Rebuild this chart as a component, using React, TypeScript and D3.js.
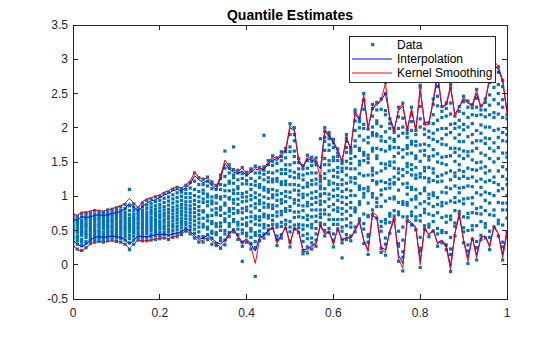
import React from "react";
import * as d3 from "d3";

// x grid of the data columns: 0, 0.01, ..., 1
const xValues = d3.range(101).map((i) => i / 100);

// Upper / lower quantile estimates (Interpolation, blue)
const interpUpper = [
  0.66, 0.65, 0.7, 0.69, 0.7, 0.72, 0.73, 0.72, 0.73, 0.75, 0.76, 0.78, 0.82, 0.9, 0.84, 0.78, 0.85, 0.9, 0.93, 0.95,
  0.98, 1.02, 1.04, 1.08, 1.1, 1.08, 1.13, 1.18, 1.3, 1.24, 1.2, 1.22, 1.16, 1.1, 1.26, 1.48, 1.4, 1.35, 1.33, 1.37,
  1.3, 1.35, 1.4, 1.38, 1.39, 1.47, 1.55, 1.52, 1.6, 1.66, 2.0, 1.96, 1.5, 1.42, 1.55, 1.53, 1.5, 1.4, 1.95, 1.88,
  1.78, 1.66, 1.52, 1.84, 1.7, 2.2, 2.12, 2.44, 2.0, 2.28, 2.33, 2.4, 2.5, 2.15, 1.97, 2.25, 2.32, 1.98, 2.25, 1.98,
  2.55, 2.08, 2.08, 2.38, 2.75, 2.3, 2.33, 2.58, 2.2, 2.3, 2.42, 2.36, 2.32, 2.5, 2.3, 2.4, 2.7, 2.92, 2.85, 2.68,
  2.25,
];
const interpLower = [
  0.36, 0.3, 0.26, 0.3, 0.36, 0.4, 0.41, 0.4, 0.41, 0.42, 0.41, 0.4, 0.37, 0.3, 0.36, 0.42, 0.41, 0.41, 0.42, 0.44,
  0.44, 0.45, 0.43, 0.45, 0.46, 0.48, 0.53, 0.49, 0.43, 0.37, 0.39, 0.43, 0.38, 0.33, 0.3, 0.36, 0.46, 0.52, 0.42, 0.33,
  0.38, 0.3, 0.2, 0.4, 0.43, 0.5, 0.55, 0.34, 0.43, 0.55, 0.32, 0.53, 0.48, 0.22, 0.23, 0.28, 0.32, 0.57, 0.45, 0.48,
  0.31, 0.52, 0.36, 0.4, 0.4, 0.5, 0.62, 0.36, 0.22, 0.72, 0.68, 0.25, 0.22, 0.48, 0.66, 0.14, 0.02, 0.64, 0.6, 0.53,
  0.05, 0.52, 0.44, 0.5, 0.32, 0.36, 0.28, -0.02, 0.46, 0.72, 0.36, 0.1, 0.4, 0.14, 0.4, 0.42, 0.28, 0.55, 0.45, 0.15,
  0.48,
];

// Upper / lower quantile estimates (Kernel Smoothing, red)
const kernelUpper = [
  0.74, 0.72, 0.77, 0.76, 0.78, 0.8, 0.79, 0.78, 0.8, 0.82, 0.84, 0.86, 0.9, 0.97, 0.9, 0.84, 0.92, 0.96, 0.98, 1.0,
  1.02, 1.06, 1.08, 1.12, 1.14, 1.12, 1.17, 1.22, 1.35, 1.28, 1.24, 1.27, 1.2, 1.14, 1.3, 1.53, 1.44, 1.38, 1.36, 1.41,
  1.33, 1.38, 1.43, 1.4, 1.41, 1.5, 1.58, 1.55, 1.63, 1.68, 2.04, 1.98, 1.53, 1.43, 1.58, 1.55, 1.53, 1.26, 1.97, 1.9,
  1.8, 1.68, 1.5, 1.87, 1.68, 2.23, 2.14, 2.48, 1.97, 2.31, 2.35, 2.41, 2.65, 2.11, 1.94, 2.28, 2.35, 1.94, 2.28, 1.94,
  2.6, 2.04, 2.05, 2.4, 2.82, 2.3, 2.35, 2.62, 2.16, 2.3, 2.45, 2.38, 2.33, 2.55, 2.3, 2.4, 2.75, 2.97, 2.9, 2.7,
  2.21,
];
const kernelLower = [
  0.28, 0.22, 0.2, 0.24, 0.3, 0.33, 0.34, 0.33, 0.34, 0.35, 0.34, 0.33, 0.3, 0.24, 0.3, 0.36, 0.35, 0.35, 0.36, 0.38,
  0.38, 0.4, 0.38, 0.41, 0.42, 0.45, 0.5, 0.46, 0.4, 0.34, 0.36, 0.4, 0.35, 0.3, 0.26, 0.32, 0.44, 0.51, 0.4, 0.3,
  0.36, 0.26, 0.02, 0.38, 0.42, 0.48, 0.56, 0.31, 0.42, 0.56, 0.29, 0.55, 0.5, 0.19, 0.2, 0.26, 0.3, 0.6, 0.45, 0.5,
  0.29, 0.55, 0.35, 0.4, 0.38, 0.52, 0.65, 0.35, 0.19, 0.77, 0.72, 0.22, 0.18, 0.5, 0.7, 0.09, -0.05, 0.68, 0.62, 0.55,
  0.0, 0.55, 0.44, 0.52, 0.3, 0.35, 0.25, -0.08, 0.45, 0.77, 0.35, 0.05, 0.4, 0.1, 0.4, 0.42, 0.25, 0.58, 0.45, 0.1,
  0.45,
];

// Observed y values per x column (hundredths)
const dataColumns = [
  "27 33 38 41 45 48 52 55 57 61 64 67 70 73",
  "23 30 35 39 42 47 50 54 58 60 63 66 69 71",
  "21 28 33 37 43 46 49 53 56 59 62 65 70 75",
  "25 31 34 40 44 47 51 55 58 61 65 68 72 76",
  "31 35 38 42 45 49 52 55 59 62 66 69 73 77",
  "33 37 40 43 47 50 54 57 60 64 67 70 74 79",
  "34 38 41 45 48 51 55 58 61 65 68 71 75 78",
  "33 37 40 44 47 52 55 59 62 66 69 72 75 77",
  "35 39 42 46 49 53 56 59 63 66 70 73 76 80",
  "36 40 43 47 50 54 57 61 64 67 71 74 78 81",
  "34 39 44 47 51 54 58 61 65 68 72 75 79 83",
  "33 38 42 46 50 54 57 61 64 68 72 76 80 85",
  "30 36 41 45 49 53 57 61 65 69 73 77 82 88",
  "22 32 38 43 48 52 56 60 64 68 73 79 86 110",
  "30 36 41 46 50 54 58 62 66 70 74 79 84 89",
  "36 40 44 48 52 55 59 62 66 69 73 76 80 83",
  "35 40 44 48 52 56 60 64 68 72 76 80 85 90",
  "35 40 45 49 53 57 61 65 69 73 77 82 87 94",
  "36 41 45 50 54 58 62 66 70 75 79 84 89 96",
  "37 42 47 51 55 59 63 67 72 76 81 86 92 99",
  "38 42 47 52 56 60 64 69 73 78 83 88 94 100",
  "39 44 48 53 57 62 66 71 75 80 85 91 97 104",
  "37 43 48 52 57 62 67 71 76 81 87 93 99 106",
  "40 45 50 55 59 64 69 74 79 84 90 96 102 110",
  "41 46 51 56 61 66 71 76 81 86 92 98 105 113",
  "44 49 54 59 63 68 73 78 83 88 94 100 106 111",
  "49 53 58 62 67 72 77 82 87 92 98 104 110 116",
  "45 51 56 61 66 71 76 81 86 92 98 104 112 120",
  "39 46 52 58 64 70 76 82 88 94 101 110 122 134",
  "33 41 48 55 61 67 73 79 85 92 99 107 117 127",
  "33 40 41 55 59 68 77 79 91 96 104 109 117 125",
  "37 44 52 55 64 70 72 86 92 99 103 115 122 128",
  "30 39 46 49 60 63 72 80 89 93 99 111 118 121",
  "28 31 44 47 56 60 73 76 82 90 98 101 110 116",
  "24 35 39 50 56 61 72 80 84 96 99 110 117 126 131",
  "29 36 45 50 63 67 75 87 90 100 108 116 129 141 166",
  "41 47 56 60 71 78 82 96 98 108 119 122 134 141 146",
  "48 51 63 66 75 82 90 95 104 109 119 127 131 139 172",
  "37 44 52 58 62 76 79 88 96 104 111 114 124 134 138",
  "5 27 33 46 51 59 67 76 82 92 99 104 118 126 133 142",
  "33 42 46 57 61 69 79 84 93 99 106 118 123 131 135",
  "23 31 40 49 53 63 70 77 86 95 101 110 117 126 137 140",
  "-17 25 34 43 47 59 67 71 83 89 98 105 116 122 134 144",
  "35 43 49 58 65 70 79 89 94 102 113 117 127 134 142",
  "39 45 54 59 70 74 84 90 99 109 113 124 132 138 143 189",
  "45 51 57 68 72 84 88 97 106 110 121 127 135 146 152",
  "53 59 65 72 82 87 98 102 110 121 125 134 145 151 159",
  "28 37 42 55 59 71 77 86 94 102 108 122 126 137 148 156",
  "39 44 56 62 73 78 90 95 104 117 121 133 139 152 158 165",
  "53 59 65 78 82 92 100 107 117 122 133 139 146 156 165 170",
  "26 33 48 55 63 79 85 98 106 117 129 137 146 165 172 190 206",
  "52 58 69 77 90 95 109 117 127 135 149 158 166 181 190 200",
  "47 54 59 70 77 87 94 102 108 116 127 132 140 149 155",
  "16 20 34 43 52 58 69 79 86 98 103 113 124 131 140 145",
  "17 26 38 45 57 66 72 86 91 102 114 119 133 141 152 160",
  "23 32 39 54 59 70 80 88 97 105 117 123 134 145 151 157",
  "27 36 45 53 63 71 80 91 98 107 118 125 134 146 150 156",
  "57 61 69 74 80 88 93 100 103 111 115 121 124 129 184",
  "42 50 59 74 80 92 104 111 126 133 146 155 167 180 186 195 200",
  "47 53 66 73 85 96 103 117 122 137 146 152 167 175 184 189 193",
  "26 36 45 59 66 80 88 100 109 119 129 138 152 157 171 178 183",
  "52 59 66 78 83 94 101 111 117 128 135 142 152 158 163 169",
  "10 32 37 49 55 66 74 82 91 99 107 117 124 136 141 148 152",
  "37 44 57 67 78 88 98 110 119 131 141 151 164 171 180 185 190",
  "35 42 55 61 72 83 91 101 108 121 127 140 148 155 163 167 171",
  "48 55 77 80 83 101 119 126 127 140 158 173 181 196 210 222 226",
  "64 67 88 92 110 114 115 133 146 151 167 170 188 200 209 214",
  "31 52 60 74 99 104 111 130 152 160 164 182 199 205 227 240 250",
  "15 33 41 44 70 72 90 108 113 131 149 155 160 178 186 198",
  "73 80 99 104 123 131 137 141 166 170 189 193 201 217 228 234",
  "68 85 91 97 118 121 134 155 159 170 188 191 206 210 226 237",
  "18 24 49 56 63 85 102 109 122 137 148 168 181 187 202 227 242",
  "14 30 39 61 66 93 111 120 141 147 166 180 194 219 225 250 266",
  "46 62 71 75 97 112 118 124 145 150 169 173 185 199 206 213",
  "66 71 79 96 99 118 120 128 141 150 158 171 180 183 193 197",
  "5 27 31 49 73 77 91 109 125 134 140 163 171 188 199 216 230",
  "-9 11 19 36 55 70 88 92 118 130 139 157 168 192 201 214 236",
  "64 70 87 91 103 113 119 135 143 148 162 170 174 186 192 197",
  "58 72 77 95 110 113 131 139 146 163 176 180 196 209 219 230",
  "51 65 70 84 96 100 110 126 131 142 155 159 174 180 190 196",
  "-4 20 24 40 64 72 89 104 128 133 151 166 175 201 213 231 259 262",
  "52 57 76 81 92 108 112 127 137 142 160 167 176 190 198 206",
  "41 55 59 74 89 97 103 121 126 142 153 158 174 186 195 207",
  "49 63 72 85 101 105 123 134 140 159 168 183 192 206 219 234 242",
  "27 45 53 76 88 98 121 129 150 162 180 197 211 232 246 260 280 284",
  "32 47 50 69 86 91 106 122 131 148 157 176 184 199 215 224 231",
  "22 29 47 62 71 90 105 113 134 146 158 175 190 199 217 228 236",
  "-10 15 23 40 66 71 93 111 124 137 159 170 193 205 220 236 258 263",
  "42 56 61 79 91 98 115 129 134 151 164 170 185 199 206 217",
  "74 78 93 105 112 126 138 146 159 169 180 190 201 211 224 231",
  "32 48 54 70 89 96 113 129 136 155 166 180 197 205 221 238 246",
  "2 20 29 50 69 75 97 115 126 141 159 165 187 201 215 230 239",
  "37 51 57 76 89 98 114 128 139 153 166 178 190 206 219 229 234",
  "7 25 34 57 75 82 105 122 138 149 170 181 196 218 230 243 256",
  "37 43 63 74 84 102 113 125 141 150 163 181 192 204 219 226 232",
  "39 55 60 79 94 106 121 134 143 160 177 185 201 216 226 237 242",
  "22 40 49 73 90 104 123 137 155 170 184 201 219 233 248 266 272 277",
  "55 72 80 101 120 128 150 166 178 196 215 222 241 259 272 287 296 299",
  "42 60 65 91 108 117 137 155 171 186 198 220 235 250 263 281 289",
  "7 26 33 58 80 90 111 129 143 163 181 193 215 230 241 260 269",
  "42 48 68 80 90 101 117 125 139 157 163 180 190 199 213 219",
];

const xTicks = [0, 0.2, 0.4, 0.6, 0.8, 1];
const yTicks = [-0.5, 0, 0.5, 1, 1.5, 2, 2.5, 3, 3.5];
const legendLabels = ["Data", "Interpolation", "Kernel Smoothing"];
const titleText = "Quantile Estimates";

const W = 560;
const H = 337;
const M = { left: 73, right: 53, top: 25, bottom: 38 };
const FONT = "Arial, 'Liberation Sans', Helvetica, sans-serif";
const AXC = "#262626";
const DOT = "#0072BD";

export default function App() {
  const x = d3.scaleLinear().domain([0, 1]).range([M.left, W - M.right]);
  const y = d3.scaleLinear().domain([-0.5, 3.5]).range([H - M.bottom, M.top]);

  const points: { x: number; y: number }[] = [];
  dataColumns.forEach((s, i) => {
    s.trim()
      .split(/\s+/)
      .forEach((v) => points.push({ x: xValues[i], y: +v / 100 }));
  });

  const line = d3
    .line<number>()
    .x((_, i) => x(xValues[i]))
    .y((d) => y(d));

  const x0 = x(0), x1 = x(1), y0 = y(-0.5), y1 = y(3.5);
  const tl = 5;
  const ds = 3.2;

  const lx = 349, ly = 36, lw = 146, lh = 46;
  const rows = [44.7, 59, 73];

  return (
    <svg
      width={W}
      height={H}
      style={{ position: "absolute", left: 0, top: 0, background: "#fff" }}
      fontFamily={FONT}
    >
      <rect x={0} y={0} width={W} height={H} fill="#fff" />
      <defs>
        <clipPath id="plotclip">
          <rect x={x0} y={y1} width={x1 - x0} height={y0 - y1} />
        </clipPath>
      </defs>
      <g clipPath="url(#plotclip)">
        {points.map((p, i) => (
          <rect key={i} x={x(p.x) - ds / 2} y={y(p.y) - ds / 2} width={ds} height={ds} fill={DOT} />
        ))}
        <path d={line(interpUpper) || ""} fill="none" stroke="#0000ff" strokeWidth={1} />
        <path d={line(interpLower) || ""} fill="none" stroke="#0000ff" strokeWidth={1} />
        <path d={line(kernelUpper) || ""} fill="none" stroke="#ff0000" strokeWidth={1} />
        <path d={line(kernelLower) || ""} fill="none" stroke="#ff0000" strokeWidth={1} />
      </g>
      <rect x={x0} y={y1} width={x1 - x0} height={y0 - y1} fill="none" stroke={AXC} strokeWidth={1} shapeRendering="crispEdges" />
      {xTicks.map((t) => (
        <g key={"x" + t}>
          <line x1={x(t)} x2={x(t)} y1={y0} y2={y0 - tl} stroke={AXC} shapeRendering="crispEdges" />
          <line x1={x(t)} x2={x(t)} y1={y1} y2={y1 + tl} stroke={AXC} shapeRendering="crispEdges" />
          <text x={x(t)} y={y0 + 18} textAnchor="middle" fontSize={12} fill={AXC}>
            {String(t)}
          </text>
        </g>
      ))}
      {yTicks.map((t) => (
        <g key={"y" + t}>
          <line x1={x0} x2={x0 + tl} y1={y(t)} y2={y(t)} stroke={AXC} shapeRendering="crispEdges" />
          <line x1={x1} x2={x1 - tl} y1={y(t)} y2={y(t)} stroke={AXC} shapeRendering="crispEdges" />
          <text x={x0 - 5} y={y(t)} dy="0.35em" textAnchor="end" fontSize={12} fill={AXC}>
            {String(t)}
          </text>
        </g>
      ))}
      <text x={(x0 + x1) / 2} y={19.5} textAnchor="middle" fontSize={14} fontWeight="bold" fill="#000">
        {titleText}
      </text>
      <rect x={lx} y={ly} width={lw} height={lh} fill="#fff" stroke={AXC} strokeWidth={1} shapeRendering="crispEdges" />
      <rect x={372.7 - ds / 2} y={rows[0] - ds / 2} width={ds} height={ds} fill={DOT} />
      <line x1={352} x2={392} y1={rows[1]} y2={rows[1]} stroke="#0000ff" />
      <line x1={352} x2={392} y1={rows[2]} y2={rows[2]} stroke="#ff0000" />
      {legendLabels.map((l, i) => (
        <text key={l} x={397} y={rows[i]} dy="0.35em" fontSize={12} fill="#000">
          {l}
        </text>
      ))}
    </svg>
  );
}
